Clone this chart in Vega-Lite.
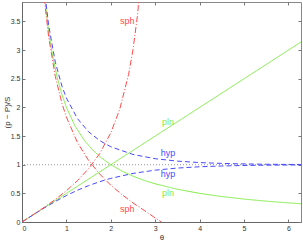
{
  "$schema": "https://vega.github.io/schema/vega-lite/v6.json",
  "width": 279,
  "height": 220,
  "autosize": {"type": "none"},
  "padding": {"left": 22, "top": 2, "right": 2, "bottom": 20},
  "config": {
    "view": {"stroke": "#888888", "strokeWidth": 1},
    "font": "Liberation Sans",
    "axis": {"grid": false, "labelFont": "Liberation Sans", "labelFontSize": 7, "labelColor": "#333333", "tickColor": "#777777", "domainColor": "#666666", "titleFont": "Liberation Sans", "titleFontWeight": "normal", "titleColor": "#333333", "titleFontSize": 8}
  },
  "datasets": {
    "curves": [
      {"s": "pln1", "g": "pln", "x": 0, "y": 0},
      {"s": "pln1", "g": "pln", "x": 6.2832, "y": 3.1416},
      {"s": "pln2", "g": "pln", "x": 0.5, "y": 4.0},
      {"s": "pln2", "g": "pln", "x": 0.6, "y": 3.3333},
      {"s": "pln2", "g": "pln", "x": 0.7, "y": 2.8571},
      {"s": "pln2", "g": "pln", "x": 0.8, "y": 2.5},
      {"s": "pln2", "g": "pln", "x": 0.9, "y": 2.2222},
      {"s": "pln2", "g": "pln", "x": 1.0, "y": 2.0},
      {"s": "pln2", "g": "pln", "x": 1.2, "y": 1.6667},
      {"s": "pln2", "g": "pln", "x": 1.4, "y": 1.4286},
      {"s": "pln2", "g": "pln", "x": 1.6, "y": 1.25},
      {"s": "pln2", "g": "pln", "x": 1.8, "y": 1.1111},
      {"s": "pln2", "g": "pln", "x": 2.0, "y": 1.0},
      {"s": "pln2", "g": "pln", "x": 2.25, "y": 0.8889},
      {"s": "pln2", "g": "pln", "x": 2.5, "y": 0.8},
      {"s": "pln2", "g": "pln", "x": 2.75, "y": 0.7273},
      {"s": "pln2", "g": "pln", "x": 3.0, "y": 0.6667},
      {"s": "pln2", "g": "pln", "x": 3.5, "y": 0.5714},
      {"s": "pln2", "g": "pln", "x": 4.0, "y": 0.5},
      {"s": "pln2", "g": "pln", "x": 4.5, "y": 0.4444},
      {"s": "pln2", "g": "pln", "x": 5.0, "y": 0.4},
      {"s": "pln2", "g": "pln", "x": 5.5, "y": 0.3636},
      {"s": "pln2", "g": "pln", "x": 6.0, "y": 0.3333},
      {"s": "pln2", "g": "pln", "x": 6.2832, "y": 0.3183},
      {"s": "hyp1", "g": "hyp", "x": 0, "y": 0},
      {"s": "hyp1", "g": "hyp", "x": 0.25, "y": 0.1244},
      {"s": "hyp1", "g": "hyp", "x": 0.5, "y": 0.2449},
      {"s": "hyp1", "g": "hyp", "x": 0.75, "y": 0.3584},
      {"s": "hyp1", "g": "hyp", "x": 1.0, "y": 0.4621},
      {"s": "hyp1", "g": "hyp", "x": 1.25, "y": 0.5546},
      {"s": "hyp1", "g": "hyp", "x": 1.5, "y": 0.6351},
      {"s": "hyp1", "g": "hyp", "x": 1.75, "y": 0.7039},
      {"s": "hyp1", "g": "hyp", "x": 2.0, "y": 0.7616},
      {"s": "hyp1", "g": "hyp", "x": 2.5, "y": 0.8483},
      {"s": "hyp1", "g": "hyp", "x": 3.0, "y": 0.9051},
      {"s": "hyp1", "g": "hyp", "x": 3.5, "y": 0.9414},
      {"s": "hyp1", "g": "hyp", "x": 4.0, "y": 0.964},
      {"s": "hyp1", "g": "hyp", "x": 4.5, "y": 0.978},
      {"s": "hyp1", "g": "hyp", "x": 5.0, "y": 0.9866},
      {"s": "hyp1", "g": "hyp", "x": 5.5, "y": 0.9919},
      {"s": "hyp1", "g": "hyp", "x": 6.0, "y": 0.9951},
      {"s": "hyp1", "g": "hyp", "x": 6.2832, "y": 0.9963},
      {"s": "hyp2", "g": "hyp", "x": 0.5, "y": 4.083},
      {"s": "hyp2", "g": "hyp", "x": 0.6, "y": 3.433},
      {"s": "hyp2", "g": "hyp", "x": 0.75, "y": 2.79},
      {"s": "hyp2", "g": "hyp", "x": 0.9, "y": 2.371},
      {"s": "hyp2", "g": "hyp", "x": 1.0, "y": 2.164},
      {"s": "hyp2", "g": "hyp", "x": 1.25, "y": 1.803},
      {"s": "hyp2", "g": "hyp", "x": 1.5, "y": 1.5745},
      {"s": "hyp2", "g": "hyp", "x": 1.75, "y": 1.4207},
      {"s": "hyp2", "g": "hyp", "x": 2.0, "y": 1.313},
      {"s": "hyp2", "g": "hyp", "x": 2.5, "y": 1.1789},
      {"s": "hyp2", "g": "hyp", "x": 3.0, "y": 1.1048},
      {"s": "hyp2", "g": "hyp", "x": 3.5, "y": 1.0623},
      {"s": "hyp2", "g": "hyp", "x": 4.0, "y": 1.0373},
      {"s": "hyp2", "g": "hyp", "x": 4.5, "y": 1.0225},
      {"s": "hyp2", "g": "hyp", "x": 5.0, "y": 1.0136},
      {"s": "hyp2", "g": "hyp", "x": 5.5, "y": 1.0082},
      {"s": "hyp2", "g": "hyp", "x": 6.0, "y": 1.0049},
      {"s": "hyp2", "g": "hyp", "x": 6.2832, "y": 1.0037},
      {"s": "sph1", "g": "sph", "x": 0, "y": 0},
      {"s": "sph1", "g": "sph", "x": 0.25, "y": 0.1257},
      {"s": "sph1", "g": "sph", "x": 0.5, "y": 0.2553},
      {"s": "sph1", "g": "sph", "x": 0.75, "y": 0.3936},
      {"s": "sph1", "g": "sph", "x": 1.0, "y": 0.5463},
      {"s": "sph1", "g": "sph", "x": 1.25, "y": 0.7215},
      {"s": "sph1", "g": "sph", "x": 1.5, "y": 0.9316},
      {"s": "sph1", "g": "sph", "x": 1.75, "y": 1.1939},
      {"s": "sph1", "g": "sph", "x": 2.0, "y": 1.5574},
      {"s": "sph1", "g": "sph", "x": 2.2, "y": 1.9648},
      {"s": "sph1", "g": "sph", "x": 2.4, "y": 2.5722},
      {"s": "sph1", "g": "sph", "x": 2.5, "y": 3.0096},
      {"s": "sph1", "g": "sph", "x": 2.6, "y": 3.6021},
      {"s": "sph1", "g": "sph", "x": 2.7, "y": 4.4552},
      {"s": "sph2", "g": "sph", "x": 0.5, "y": 3.9163},
      {"s": "sph2", "g": "sph", "x": 0.6, "y": 3.2327},
      {"s": "sph2", "g": "sph", "x": 0.75, "y": 2.5407},
      {"s": "sph2", "g": "sph", "x": 0.9, "y": 2.0701},
      {"s": "sph2", "g": "sph", "x": 1.0, "y": 1.8305},
      {"s": "sph2", "g": "sph", "x": 1.25, "y": 1.386},
      {"s": "sph2", "g": "sph", "x": 1.5, "y": 1.0734},
      {"s": "sph2", "g": "sph", "x": 1.75, "y": 0.8376},
      {"s": "sph2", "g": "sph", "x": 2.0, "y": 0.6421},
      {"s": "sph2", "g": "sph", "x": 2.25, "y": 0.4791},
      {"s": "sph2", "g": "sph", "x": 2.5, "y": 0.3323},
      {"s": "sph2", "g": "sph", "x": 2.75, "y": 0.2035},
      {"s": "sph2", "g": "sph", "x": 3.0, "y": 0.0709},
      {"s": "sph2", "g": "sph", "x": 3.1416, "y": 0}
    ],
    "labels": [
      {"g": "pln", "t": "pln", "x": 3.29, "y": 1.74},
      {"g": "hyp", "t": "hyp", "x": 3.29, "y": 1.2},
      {"g": "hyp", "t": "hyp", "x": 3.29, "y": 0.83},
      {"g": "pln", "t": "pln", "x": 3.29, "y": 0.51},
      {"g": "sph", "t": "sph", "x": 2.37, "y": 3.5},
      {"g": "sph", "t": "sph", "x": 2.37, "y": 0.23}
    ],
    "ref": [{"y": 1}]
  },
  "layer": [
    {
      "data": {"name": "ref"},
      "mark": {"type": "rule", "color": "#999999", "strokeWidth": 1, "strokeDash": [1, 2]},
      "encoding": {
        "y": {"field": "y", "type": "quantitative", "scale": {"domain": [0, 3.84], "nice": false},
          "axis": {"title": "(p − P)/S", "format": "~g", "values": [0, 0.5, 1, 1.5, 2, 2.5, 3, 3.5], "tickSize": -3, "labelPadding": 5, "titlePadding": -1}}
      }
    },
    {
      "data": {"name": "curves"},
      "mark": {"type": "line", "strokeWidth": 1, "clip": true},
      "encoding": {
        "x": {"field": "x", "type": "quantitative", "scale": {"domain": [0, 6.2832], "nice": false, "zero": false},
          "axis": {"title": "θ", "values": [0, 1, 2, 3, 4, 5, 6], "tickSize": -3, "labelPadding": 5, "titlePadding": 2}},
        "y": {"field": "y", "type": "quantitative", "axis": null},
        "detail": {"field": "s"},
        "color": {"field": "g", "type": "nominal", "scale": {"domain": ["pln", "hyp", "sph"], "range": ["#80ec46", "#4a4aff", "#ff4a4a"]}, "legend": null},
        "strokeDash": {"field": "g", "type": "nominal", "scale": {"domain": ["pln", "hyp", "sph"], "range": [[1, 0], [5, 3], [6, 2, 1, 2]]}, "legend": null}
      }
    },
    {
      "data": {"name": "labels"},
      "mark": {"type": "text", "fontSize": 9, "font": "Liberation Sans", "align": "center", "baseline": "middle"},
      "encoding": {
        "x": {"field": "x", "type": "quantitative", "axis": null},
        "y": {"field": "y", "type": "quantitative", "axis": null},
        "text": {"field": "t"},
        "color": {"field": "g", "type": "nominal", "legend": null}
      }
    },
    {
      "data": {"name": "ref"},
      "mark": {"type": "point", "opacity": 0},
      "encoding": {
        "x": {"datum": 0, "type": "quantitative", "axis": {"orient": "top", "labels": false, "title": null, "domain": false, "values": [0, 1, 2, 3, 4, 5, 6], "tickSize": -3}},
        "y": {"field": "y", "type": "quantitative", "axis": {"orient": "right", "labels": false, "title": null, "domain": false, "values": [0, 0.5, 1, 1.5, 2, 2.5, 3, 3.5], "tickSize": -3}}
      }
    }
  ],
  "resolve": {"axis": {"x": "independent", "y": "independent"}}
}
